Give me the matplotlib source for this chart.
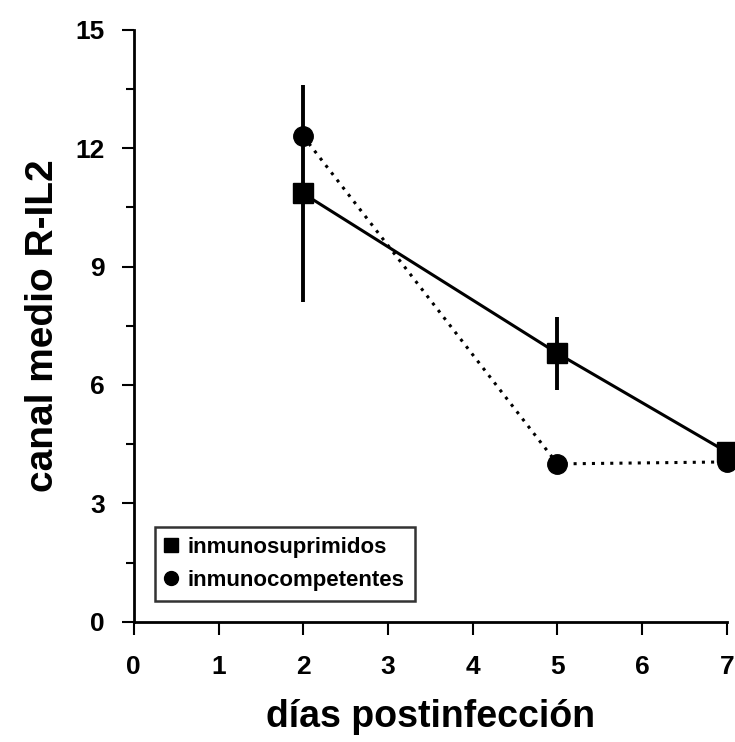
import matplotlib
matplotlib.use("Agg")
import matplotlib.pyplot as plt
from matplotlib.lines import Line2D
from matplotlib.ticker import MultipleLocator

# data
days = [2, 5, 7]
inmunosuprimidos = [10.85, 6.8, 4.3]
inmunosuprimidos_err = [2.75, 0.92, 0.0]
inmunocompetentes = [12.3, 4.0, 4.05]

x_ticks = [0, 1, 2, 3, 4, 5, 6, 7]
y_ticks = [0, 3, 6, 9, 12, 15]

plt.rcParams["font.family"] = ["Liberation Sans", "DejaVu Sans"]
plt.rcParams["font.weight"] = "bold"

fig = plt.figure(figsize=(7.35, 7.42), dpi=100)
ax = fig.add_axes([0.182, 0.162, 0.807, 0.798])

ax.errorbar(days, inmunosuprimidos, yerr=inmunosuprimidos_err, color="black",
            lw=2.2, elinewidth=2.8, capsize=0, marker="s", ms=14,
            zorder=3, clip_on=False)
ax.plot(days, inmunocompetentes, color="black", lw=2.2, ls=(0, (1, 2)),
        marker="o", ms=14, zorder=3, clip_on=False)

ax.set_xlim(0, 7)
ax.set_ylim(0, 15)
ax.set_xticks(x_ticks)
ax.set_yticks(y_ticks)
ax.yaxis.set_minor_locator(MultipleLocator(1.5))
ax.tick_params(axis="both", which="major", direction="out", length=9, width=1.5,
               labelsize=19, pad=12)
ax.tick_params(axis="x", pad=15)
ax.tick_params(axis="y", which="minor", direction="out", length=6, width=1.5)

for side in ["top", "right"]:
    ax.spines[side].set_visible(False)
for side in ["left", "bottom"]:
    ax.spines[side].set_linewidth(2)
for lbl in ax.get_xticklabels() + ax.get_yticklabels():
    lbl.set_fontweight("bold")

ax.set_xlabel("días postinfección", fontsize=27, fontweight="bold", labelpad=14)
ax.set_ylabel("canal medio R-IL2", fontsize=28, fontweight="bold", labelpad=10)

handles = [
    Line2D([], [], color="black", marker="s", ms=10, ls="none"),
    Line2D([], [], color="black", marker="o", ms=10, ls="none"),
]
labels = ["inmunosuprimidos", "inmunocompetentes"]
leg = ax.legend(handles, labels, loc="lower left", bbox_to_anchor=(0.035, 0.035),
                frameon=True, fancybox=False, edgecolor="black", fontsize=16,
                handlelength=0.6, handletextpad=0.45,
                borderpad=0.45, labelspacing=0.55, borderaxespad=0)
leg.get_frame().set_linewidth(1.8)
for txt in leg.get_texts():
    txt.set_fontweight("bold")

fig.savefig("out.png", dpi=100, facecolor="white")
